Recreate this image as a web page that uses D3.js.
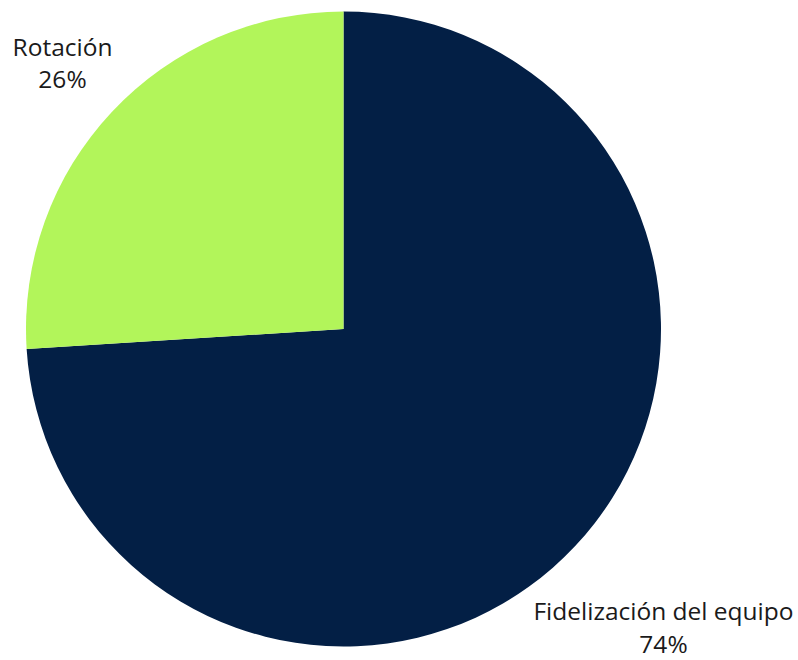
<!DOCTYPE html>
<html><head><meta charset="utf-8">
<script src="https://cdn.jsdelivr.net/npm/d3@7"></script>
<style>body{margin:0;background:#fff}svg{display:block}</style>
</head><body>
<svg id="c" width="798" height="660"></svg>
<script>
const categories = ["Fidelización del equipo", "Rotación"];
const values = [74, 26];
const colors = ["#031f45", "#b2f55a"];
const labelLines = [["Fidelización del equipo", "74%"], ["Rotación", "26%"]];

const svg = d3.select("#c");
const cx = 343.5, cy = 329, r = 317.5;
const pie = d3.pie().sort(null).value(d => d)(values);
const arc = d3.arc().innerRadius(0).outerRadius(r);
const g = svg.append("g").attr("transform", `translate(${cx},${cy})`);
g.selectAll("path").data(pie).join("path")
  .attr("d", arc).attr("fill", (d, i) => colors[i]);

const labelPos = [
  {x: 663.5, y: 620, gap: 33},
  {x: 62.5, y: 56, gap: 32}
];
labelLines.forEach((lines, i) => {
  lines.forEach((s, j) => {
    svg.append("text")
      .attr("font-family", "'Open Sans', sans-serif")
      .attr("font-size", 24.5)
      .attr("fill", "#1a1a1a")
      .attr("text-anchor", "middle")
      .attr("x", labelPos[i].x)
      .attr("y", labelPos[i].y + j * labelPos[i].gap)
      .text(s);
  });
});
</script>
</body></html>
